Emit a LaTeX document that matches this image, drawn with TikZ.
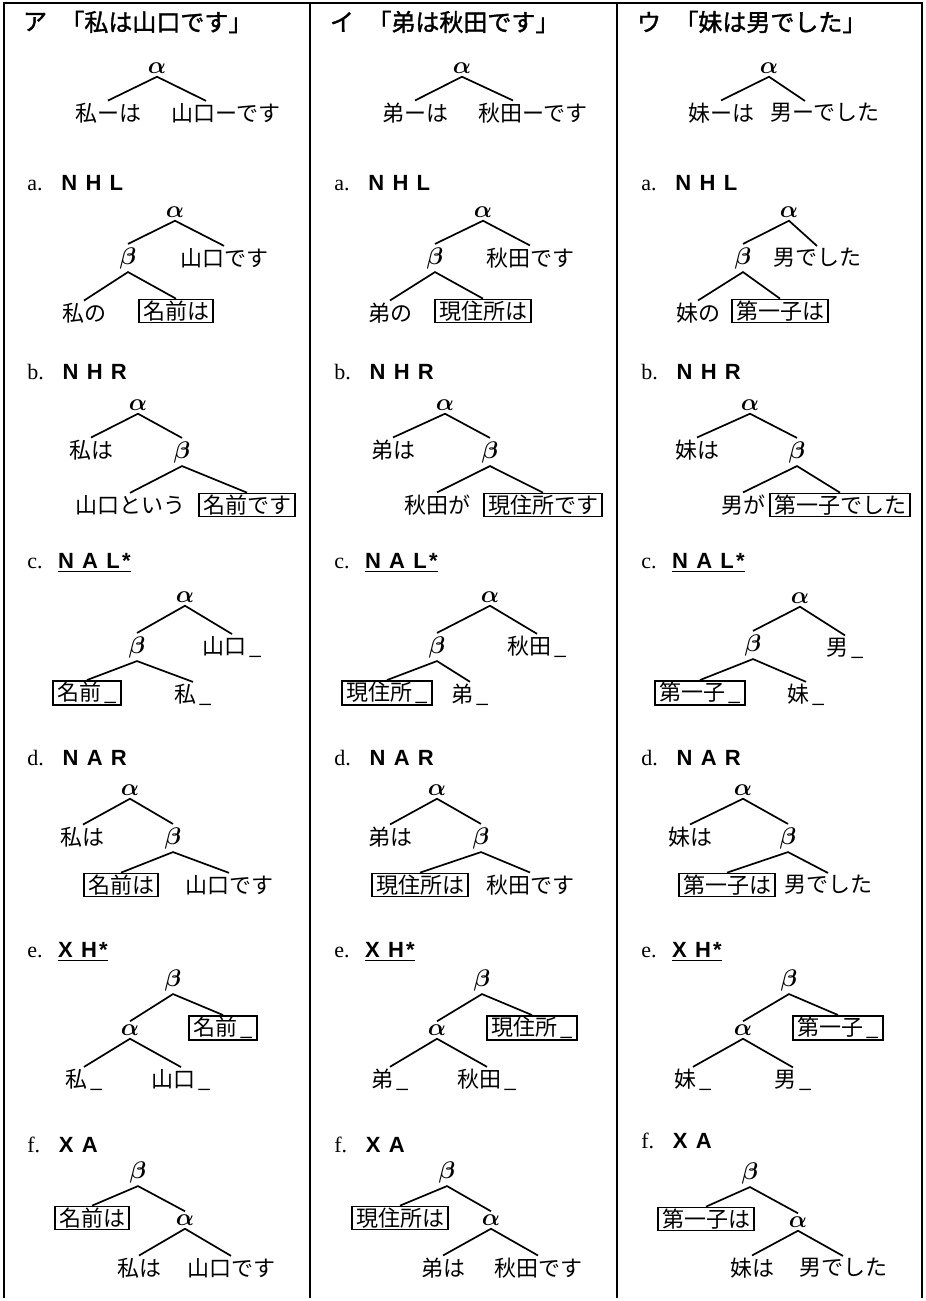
\documentclass[tikz,border=0pt]{standalone}
\usepackage{fontspec}
\setmainfont{Liberation Serif}
\newfontfamily\jp{Noto Sans CJK JP}
\newfontfamily\jpb{Noto Sans CJK JP}[FakeBold=1.5]
\newfontfamily\lt{Liberation Sans}[LetterSpace=10]

\begin{document}
\begin{tikzpicture}[
        x=0.5pt, y=-0.5pt,
        hd/.style={inner sep=0pt, font=\jpb\fontsize{12}{14}\selectfont},
        lab/.style={anchor=west, inner sep=0pt, font=\fontsize{11}{13}\selectfont},
        gk/.style={inner sep=1.5pt, font=\fontsize{11.5}{13}\selectfont\boldmath},
        wd/.style={inner sep=1pt, font=\jp\fontsize{11}{13}\selectfont},
        hb/.style={wd, draw, line width=0.75pt, inner xsep=2pt, inner ysep=0.7pt},
        br/.style={line width=0.85pt},
        frame/.style={line width=1pt},
    ]
        \useasboundingbox (0,0) rectangle (926,1301);
        \draw[frame] (4,1298) -- (4,3) -- (922,3) -- (922,1298);
        \draw[frame] (310,3) -- (310,1298);
        \draw[frame] (617,3) -- (617,1298);

        \node[hd] (h1k) at (35,22) {ア};
        \node[hd, anchor=west] (h1s) at (60,22) {「私は山口です」};
        \node[gk] (t1a) at (157,68) {$\alpha$};
        \node[wd] (t1l) at (108,113) {私ーは};
        \node[wd] (t1r) at (226,113) {山口ーです};
        \draw[br] (t1l.north) -- (t1a.south) -- ([xshift=-10pt]t1r.north);

        \node[lab] (a1lab) at (27,183) {a.\hspace{0.85em}{\lt\bfseries N H L}};
        \node[gk] (a1a) at (175,212) {$\alpha$};
        \node[gk] (a1b) at (128,258) {$\beta$};
        \node[wd] (a1r) at (224,258) {山口です};
        \node[wd] (a1l) at (84,313) {私の};
        \node[hb] (a1h) at (176,311) {名前は};
        \draw[br] (a1b.north) -- (a1a.south) -- (a1r.north);
        \draw[br] (a1l.north) -- (a1b.south) -- (a1h.north);

        \node[lab] (b1lab) at (27,372) {b.\hspace{0.85em}{\lt\bfseries N H R}};
        \node[gk] (b1a) at (138,405) {$\alpha$};
        \node[wd] (b1l) at (91,450) {私は};
        \node[gk] (b1b) at (182,452) {$\beta$};
        \node[wd] (b1m) at (130,505) {山口という};
        \node[hb] (b1h) at (247,505) {名前です};
        \draw[br] (b1l.north) -- (b1a.south) -- (b1b.north);
        \draw[br] (b1m.north) -- (b1b.south) -- (b1h.north);

        \node[lab] (c1lab) at (27,563) {c.\hspace{0.7em}\underline{\lt\bfseries N A L*}};
        \node[gk] (c1a) at (185,597) {$\alpha$};
        \node[gk] (c1b) at (137,647) {$\beta$};
        \node[wd] (c1r) at (232,647) {山口\,\_};
        \node[hb] (c1h) at (87,693) {名前\,\_};
        \node[wd] (c1m) at (193,695) {私\,\_};
        \draw[br] (c1b.north) -- (c1a.south) -- (c1r.north);
        \draw[br] (c1h.north) -- (c1b.south) -- (c1m.north);

        \node[lab] (d1lab) at (27,758) {d.\hspace{0.85em}{\lt\bfseries N A R}};
        \node[gk] (d1a) at (130,790) {$\alpha$};
        \node[wd] (d1l) at (83,837) {私は};
        \node[gk] (d1b) at (173,838) {$\beta$};
        \node[hb] (d1h) at (121,885) {名前は};
        \node[wd] (d1r) at (229,885) {山口です};
        \draw[br] (d1l.north) -- (d1a.south) -- (d1b.north);
        \draw[br] (d1h.north) -- (d1b.south) -- (d1r.north);

        \node[lab] (e1lab) at (27,952) {e.\hspace{0.7em}\underline{\lt\bfseries X H*}};
        \node[gk] (e1b) at (173,980) {$\beta$};
        \node[gk] (e1a) at (130,1030) {$\alpha$};
        \node[hb] (e1h) at (223,1028) {名前\,\_};
        \node[wd] (e1l) at (84,1080) {私\,\_};
        \node[wd] (e1r) at (181,1080) {山口\,\_};
        \draw[br] (e1a.north) -- (e1b.south) -- (e1h.north);
        \draw[br] (e1l.north) -- (e1a.south) -- (e1r.north);

        \node[lab] (f1lab) at (27,1145) {f.\hspace{0.85em}{\lt\bfseries X A}};
        \node[gk] (f1b) at (138,1172) {$\beta$};
        \node[hb] (f1h) at (92,1218) {名前は};
        \node[gk] (f1a) at (185,1220) {$\alpha$};
        \node[wd] (f1l) at (139,1268) {私は};
        \node[wd] (f1r) at (231,1268) {山口です};
        \draw[br] (f1h.north) -- (f1b.south) -- (f1a.north);
        \draw[br] (f1l.north) -- (f1a.south) -- (f1r.north);

        \node[hd] (h2k) at (342,22) {イ};
        \node[hd, anchor=west] (h2s) at (367,22) {「弟は秋田です」};
        \node[gk] (t2a) at (462,68) {$\alpha$};
        \node[wd] (t2l) at (415,113) {弟ーは};
        \node[wd] (t2r) at (533,113) {秋田ーです};
        \draw[br] (t2l.north) -- (t2a.south) -- ([xshift=-10pt]t2r.north);

        \node[lab] (a2lab) at (334,183) {a.\hspace{0.85em}{\lt\bfseries N H L}};
        \node[gk] (a2a) at (483,212) {$\alpha$};
        \node[gk] (a2b) at (435,258) {$\beta$};
        \node[wd] (a2r) at (530,258) {秋田です};
        \node[wd] (a2l) at (390,313) {弟の};
        \node[hb] (a2h) at (483,311) {現住所は};
        \draw[br] (a2b.north) -- (a2a.south) -- (a2r.north);
        \draw[br] (a2l.north) -- (a2b.south) -- (a2h.north);

        \node[lab] (b2lab) at (334,372) {b.\hspace{0.85em}{\lt\bfseries N H R}};
        \node[gk] (b2a) at (445,405) {$\alpha$};
        \node[wd] (b2l) at (393,450) {弟は};
        \node[gk] (b2b) at (490,452) {$\beta$};
        \node[wd] (b2m) at (437,505) {秋田が};
        \node[hb] (b2h) at (543,505) {現住所です};
        \draw[br] (b2l.north) -- (b2a.south) -- (b2b.north);
        \draw[br] (b2m.north) -- (b2b.south) -- (b2h.north);

        \node[lab] (c2lab) at (334,563) {c.\hspace{0.7em}\underline{\lt\bfseries N A L*}};
        \node[gk] (c2a) at (490,597) {$\alpha$};
        \node[gk] (c2b) at (437,647) {$\beta$};
        \node[wd] (c2r) at (537,647) {秋田\,\_};
        \node[hb] (c2h) at (387,693) {現住所\,\_};
        \node[wd] (c2m) at (470,695) {弟\,\_};
        \draw[br] (c2b.north) -- (c2a.south) -- (c2r.north);
        \draw[br] (c2h.north) -- (c2b.south) -- (c2m.north);

        \node[lab] (d2lab) at (334,758) {d.\hspace{0.85em}{\lt\bfseries N A R}};
        \node[gk] (d2a) at (437,790) {$\alpha$};
        \node[wd] (d2l) at (390,837) {弟は};
        \node[gk] (d2b) at (481,838) {$\beta$};
        \node[hb] (d2h) at (420,885) {現住所は};
        \node[wd] (d2r) at (530,885) {秋田です};
        \draw[br] (d2l.north) -- (d2a.south) -- (d2b.north);
        \draw[br] (d2h.north) -- (d2b.south) -- (d2r.north);

        \node[lab] (e2lab) at (334,952) {e.\hspace{0.7em}\underline{\lt\bfseries X H*}};
        \node[gk] (e2b) at (482,980) {$\beta$};
        \node[gk] (e2a) at (437,1030) {$\alpha$};
        \node[hb] (e2h) at (532,1028) {現住所\,\_};
        \node[wd] (e2l) at (390,1080) {弟\,\_};
        \node[wd] (e2r) at (487,1080) {秋田\,\_};
        \draw[br] (e2a.north) -- (e2b.south) -- (e2h.north);
        \draw[br] (e2l.north) -- (e2a.south) -- (e2r.north);

        \node[lab] (f2lab) at (334,1145) {f.\hspace{0.85em}{\lt\bfseries X A}};
        \node[gk] (f2b) at (447,1172) {$\beta$};
        \node[hb] (f2h) at (400,1218) {現住所は};
        \node[gk] (f2a) at (491,1220) {$\alpha$};
        \node[wd] (f2l) at (443,1268) {弟は};
        \node[wd] (f2r) at (538,1268) {秋田です};
        \draw[br] (f2h.north) -- (f2b.south) -- (f2a.north);
        \draw[br] (f2l.north) -- (f2a.south) -- (f2r.north);

        \node[hd] (h3k) at (649,22) {ウ};
        \node[hd, anchor=west] (h3s) at (674,22) {「妹は男でした」};
        \node[gk] (t3a) at (769,68) {$\alpha$};
        \node[wd] (t3l) at (721,113) {妹ーは};
        \node[wd] (t3r) at (825,113) {男ーでした};
        \draw[br] (t3l.north) -- (t3a.south) -- ([xshift=-10pt]t3r.north);

        \node[lab] (a3lab) at (641,183) {a.\hspace{0.85em}{\lt\bfseries N H L}};
        \node[gk] (a3a) at (789,212) {$\alpha$};
        \node[gk] (a3b) at (743,258) {$\beta$};
        \node[wd] (a3r) at (817,258) {男でした};
        \node[wd] (a3l) at (698,313) {妹の};
        \node[hb] (a3h) at (780,311) {第一子は};
        \draw[br] (a3b.north) -- (a3a.south) -- (a3r.north);
        \draw[br] (a3l.north) -- (a3b.south) -- (a3h.north);

        \node[lab] (b3lab) at (641,372) {b.\hspace{0.85em}{\lt\bfseries N H R}};
        \node[gk] (b3a) at (750,405) {$\alpha$};
        \node[wd] (b3l) at (697,450) {妹は};
        \node[gk] (b3b) at (797,452) {$\beta$};
        \node[wd] (b3m) at (743,505) {男が};
        \node[hb] (b3h) at (840,505) {第一子でした};
        \draw[br] (b3l.north) -- (b3a.south) -- (b3b.north);
        \draw[br] (b3m.north) -- (b3b.south) -- (b3h.north);

        \node[lab] (c3lab) at (641,563) {c.\hspace{0.7em}\underline{\lt\bfseries N A L*}};
        \node[gk] (c3a) at (800,598) {$\alpha$};
        \node[gk] (c3b) at (753,645) {$\beta$};
        \node[wd] (c3r) at (845,648) {男\,\_};
        \node[hb] (c3h) at (700,693) {第一子\,\_};
        \node[wd] (c3m) at (806,695) {妹\,\_};
        \draw[br] (c3b.north) -- (c3a.south) -- (c3r.north);
        \draw[br] (c3h.north) -- (c3b.south) -- (c3m.north);

        \node[lab] (d3lab) at (641,758) {d.\hspace{0.85em}{\lt\bfseries N A R}};
        \node[gk] (d3a) at (743,790) {$\alpha$};
        \node[wd] (d3l) at (690,837) {妹は};
        \node[gk] (d3b) at (788,838) {$\beta$};
        \node[hb] (d3h) at (727,885) {第一子は};
        \node[wd] (d3r) at (828,885) {男でした};
        \draw[br] (d3l.north) -- (d3a.south) -- (d3b.north);
        \draw[br] (d3h.north) -- (d3b.south) -- (d3r.north);

        \node[lab] (e3lab) at (641,952) {e.\hspace{0.7em}\underline{\lt\bfseries X H*}};
        \node[gk] (e3b) at (789,980) {$\beta$};
        \node[gk] (e3a) at (743,1030) {$\alpha$};
        \node[hb] (e3h) at (838,1028) {第一子\,\_};
        \node[wd] (e3l) at (693,1080) {妹\,\_};
        \node[wd] (e3r) at (793,1080) {男\,\_};
        \draw[br] (e3a.north) -- (e3b.south) -- (e3h.north);
        \draw[br] (e3l.north) -- (e3a.south) -- (e3r.north);

        \node[lab] (f3lab) at (641,1141) {f.\hspace{0.85em}{\lt\bfseries X A}};
        \node[gk] (f3b) at (750,1173) {$\beta$};
        \node[hb] (f3h) at (706,1219) {第一子は};
        \node[gk] (f3a) at (798,1222) {$\alpha$};
        \node[wd] (f3l) at (752,1268) {妹は};
        \node[wd] (f3r) at (843,1268) {男でした};
        \draw[br] (f3h.north) -- (f3b.south) -- (f3a.north);
        \draw[br] (f3l.north) -- (f3a.south) -- (f3r.north);
    \end{tikzpicture}
\end{document}
